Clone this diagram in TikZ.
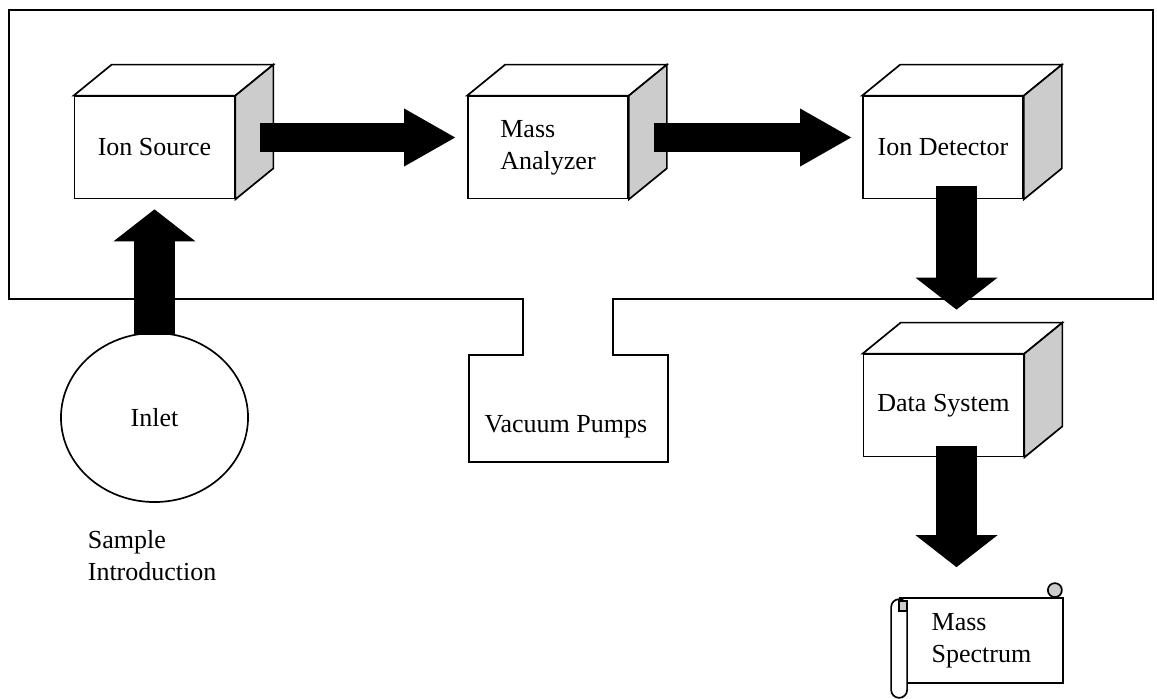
\documentclass[tikz,border=0pt]{standalone}
\usepackage{fontspec}
\setmainfont{Liberation Serif}
\usepackage{tikz}
\usetikzlibrary{shapes.geometric,arrows.meta,calc}
\definecolor{sidegray}{gray}{0.8}
\tikzset{cube/.style={rectangle,draw,fill=white,minimum width=4cm,minimum height=2.55cm,inner sep=0.1cm}}
\tikzset{flowh/.style={line width=0.725cm,-{Triangle[length=1.275cm,width=1.45cm,line width=0pt]}}}
\tikzset{flowv/.style={line width=1.025cm,-{Triangle[length=0.8cm,width=2.05cm,line width=0pt]}}}
\tikzset{lbl/.style={inner sep=0pt,align=left}}
% top and side of a box, hung on the front face node
\newcommand{\cubefaces}[1]{%
  \filldraw[fill=white] (#1.north west) -- ++(38,-31) -- ($(#1.north east)+(38,-31)$) -- (#1.north east) -- cycle;
  \filldraw[fill=sidegray] (#1.north east) -- ($(#1.north east)+(38,-31)$) -- ($(#1.south east)+(38,-31)$) -- (#1.south east) -- cycle;}

\begin{document}
\begin{tikzpicture}[x=0.025cm,y=-0.025cm,line width=1.2pt,font=\fontsize{18.5pt}{22.8pt}\selectfont]
    \useasboundingbox (0,0) rectangle (1157,698);

    % vacuum chamber with the pump outlet
    \draw (9,10) -- (1153,10) -- (1153,299) -- (613,299) -- (613,355) -- (668,355) -- (668,462)
        -- (469,462) -- (469,355) -- (523,355) -- (523,299) -- (9,299) -- cycle;
    \node[lbl] (vac) at (566,427) {Vacuum Pumps};

    \node[cube] (ionsrc) at (154.5,147.5) {Ion Source};
    \node[cube,align=left] (massan) at (548,147.5) {Mass\\Analyzer};
    \node[cube] (iondet) at (943,147.5) {Ion Detector};
    \node[cube] (datasys) at (943.5,405.5) {Data System};
    \cubefaces{ionsrc}
    \cubefaces{massan}
    \cubefaces{iondet}
    \cubefaces{datasys}

    \node[ellipse,draw,minimum width=4.675cm,minimum height=4.225cm] (inlet) at (154.5,417.5) {Inlet};
    \node[lbl,anchor=north west] (sample) at (87,530) {Sample\\Introduction};

    % scroll
    \node[rectangle,draw,fill=white,align=left,minimum width=4.075cm,minimum height=2.125cm] (spec) at (981.5,640.5) {Mass\\Spectrum};
    \filldraw[fill=white,rounded corners=0.2cm] ($(spec.north west)+(-8,2)$) rectangle ($(spec.south west)+(8,14)$);
    \filldraw[fill=sidegray] ($(spec.north west)+(0,4)$) rectangle ($(spec.north west)+(8,14)$);
    \filldraw[fill=sidegray] ($(spec.north east)+(-9,-7)$) circle (0.175cm);

    \draw[flowh] ($(ionsrc.east)+(25,-10)$) -- ($(massan.west)+(-12,-10)$);
    \draw[flowh] ($(massan.east)+(25,-10)$) -- ($(iondet.west)+(-11,-10)$);
    \draw[flowv] ($(iondet.south)+(13.5,-13)$) -- ($(datasys.north)+(13,-44)$);
    \draw[flowv] ($(datasys.south)+(13,-11)$) -- ($(spec.north)+(-25,-30)$);
    \draw[flowv] ($(inlet.north)+(0,3)$) -- ($(ionsrc.south)+(0,10)$);
\end{tikzpicture}
\end{document}
